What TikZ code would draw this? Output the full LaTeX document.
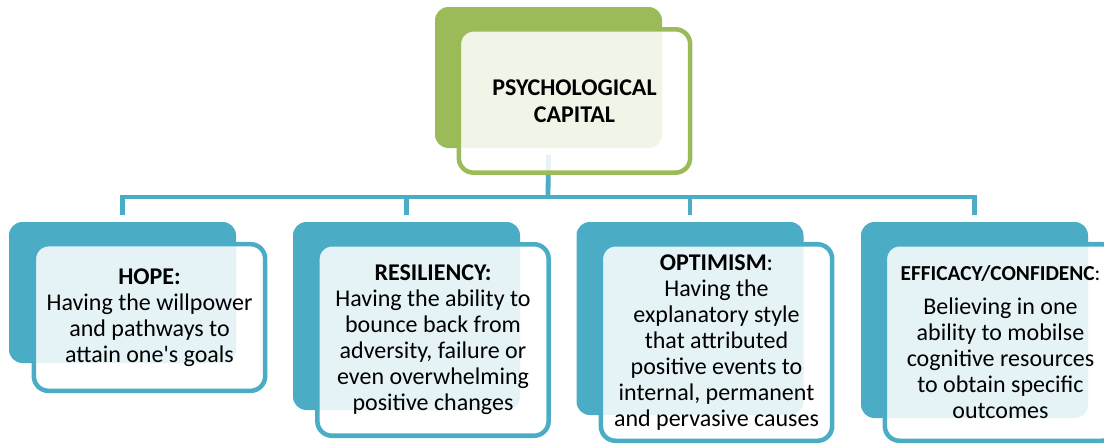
\documentclass[tikz,border=0pt]{standalone}
\usepackage{fontspec}
\setmainfont{Carlito}
\definecolor{pcblue}{HTML}{4BACC6}
\definecolor{pcgreen}{HTML}{9BBB59}
\begin{document}
\begin{tikzpicture}[x=0.75pt,y=-0.75pt,
  backbox/.style={rectangle, rounded corners=10pt, fill=#1, draw=none,
    minimum width=170.25pt, inner sep=0pt},
  frontbox/.style={rectangle, rounded corners=11pt, draw=#1, line width=3.4pt,
    fill=white, fill opacity=0.86, text opacity=1, draw opacity=1,
    minimum width=173.5pt, inner sep=0pt, align=center,
    font=\fontsize{18}{19.5}\selectfont},
  bus/.style={draw=pcblue, line width=3.6pt},
]
\useasboundingbox (0,0) rectangle (1104,446);

% back layer
\node[backbox=pcgreen, minimum height=105.75pt] (rootB) at (548.5,77.5) {};
\node[backbox=pcblue, minimum height=105.75pt] (hopeB) at (122.5,292.5) {};
\node[backbox=pcblue, minimum height=141pt] (resB) at (406.5,316) {};
\node[backbox=pcblue, minimum height=144.75pt] (optB) at (690,318.5) {};
\node[backbox=pcblue, minimum height=147pt] (effB) at (974.5,320) {};

% connectors
\coordinate (fork) at (548,197);
\draw[bus, shorten <=5pt] (rootB.south) -- (fork);
\draw[bus, shorten >=5pt] (fork) -| (hopeB.north);
\draw[bus, shorten >=5pt] (fork) -| (resB.north);
\draw[bus, shorten >=5pt] (fork) -| (optB.north);
\draw[bus, shorten >=5pt] (fork) -| (effB.north);

% front layer
\node[frontbox=pcgreen, minimum height=107.5pt,
  font=\fontsize{18}{20}\selectfont\bfseries] (root) at (574.5,101)
  {PSYCHOLOGICAL\\CAPITAL};
\node[frontbox=pcblue, minimum height=110pt] (hope) at (149.5,317.5)
  {\textbf{HOPE:}\\Having the willpower\\and pathways to\\attain one\textquotesingle s goals};
\node[frontbox=pcblue, minimum height=143.6pt] (res) at (433,340)
  {\textbf{RESILIENCY:}\\Having the ability to\\bounce back from\\adversity, failure or\\even overwhelming\\positive changes};
\node[frontbox=pcblue, minimum height=147.4pt] (opt) at (716.5,342.5)
  {\textbf{OPTIMISM}:\\Having the\\explanatory style\\that attributed\\positive events to\\internal, permanent\\and pervasive causes};
\node[frontbox=pcblue, minimum height=147.4pt] (eff) at (1000.5,342.5)
  {{\fontsize{16}{19.5}\selectfont\textbf{EFFICACY/CONFIDENC}:}\\[6pt]Believing in one\\ability to mobilse\\cognitive resources\\to obtain specific\\outcomes};
\end{tikzpicture}
\end{document}
